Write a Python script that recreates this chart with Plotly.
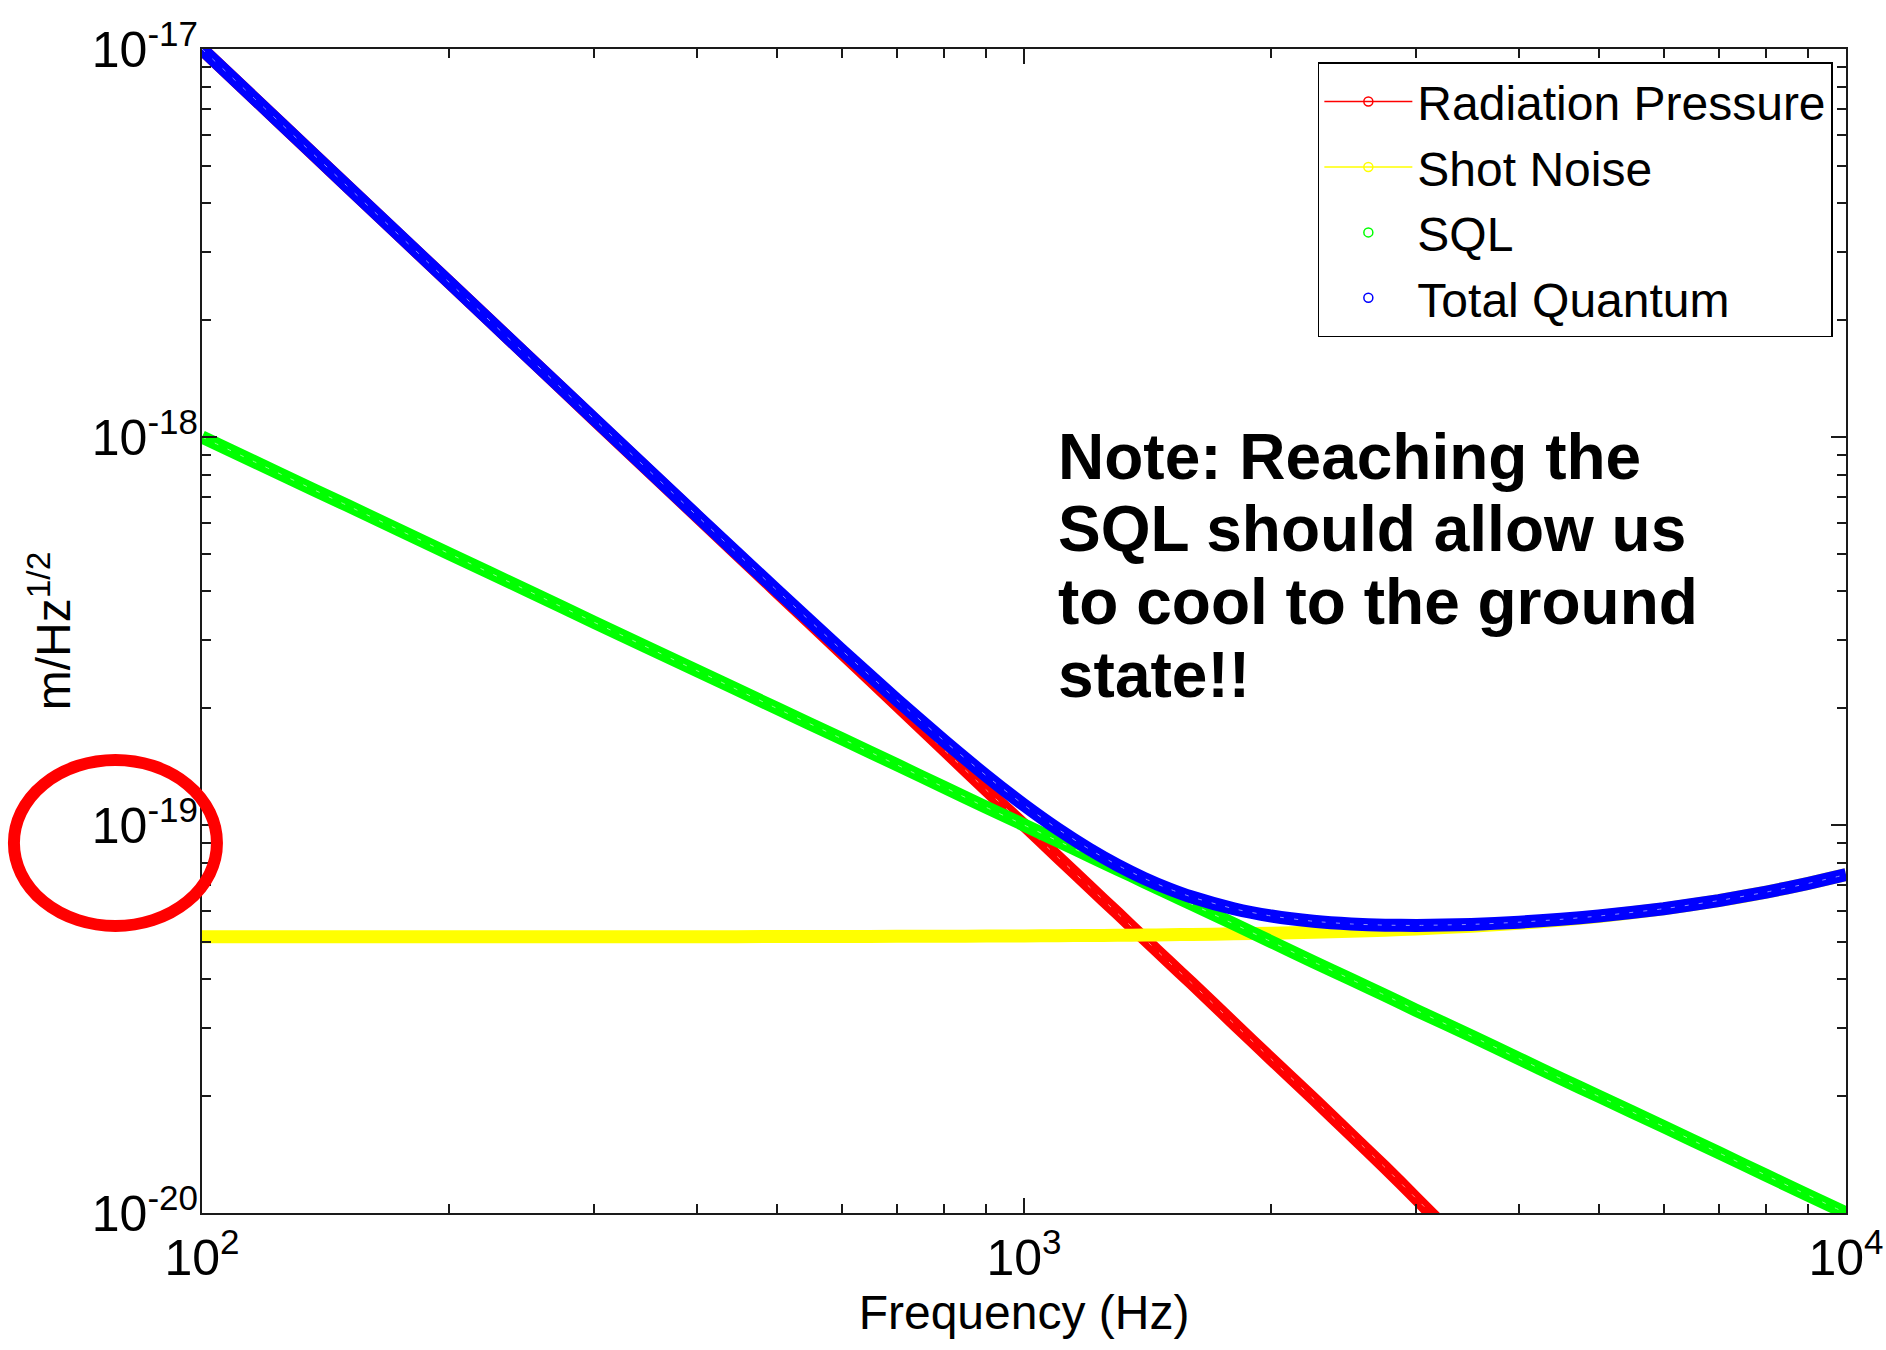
import plotly.graph_objects as go

# Sample frequencies (Hz) for the shot-noise, SQL and total curves
freq_hz = [100, 125, 150, 200, 250, 300, 400, 500, 600, 700, 800, 900,
           1000, 1100, 1200, 1300, 1400, 1500, 1600, 1800, 2000, 2250,
           2500, 2750, 3000, 3500, 4000, 4500, 5000, 6000, 7000, 8000,
           9000, 10000]

# Radiation-pressure curve runs off the bottom of the range just past 3 kHz
freq_rp_hz = [100, 125, 150, 200, 250, 300, 400, 500, 600, 700, 800, 900,
              1000, 1100, 1200, 1300, 1400, 1500, 1600, 1800, 2000, 2250,
              2500, 2750, 3000, 3300]

# Displacement noise, m/Hz^1/2
radiation_pressure = [1.0e-17, 6.40e-18, 4.44e-18, 2.50e-18, 1.60e-18, 1.11e-18,
                      6.25e-19, 4.00e-19, 2.78e-19, 2.04e-19, 1.56e-19, 1.23e-19,
                      1.00e-19, 8.26e-20, 6.94e-20, 5.92e-20, 5.10e-20, 4.44e-20,
                      3.91e-20, 3.08e-20, 2.49e-20, 1.97e-20, 1.59e-20, 1.31e-20,
                      1.09e-20, 8.9e-21]

shot_noise = [5.150e-20, 5.150e-20, 5.151e-20, 5.151e-20, 5.152e-20, 5.153e-20,
              5.154e-20, 5.157e-20, 5.160e-20, 5.164e-20, 5.168e-20, 5.173e-20,
              5.178e-20, 5.184e-20, 5.190e-20, 5.197e-20, 5.205e-20, 5.213e-20,
              5.222e-20, 5.241e-20, 5.262e-20, 5.291e-20, 5.323e-20, 5.358e-20,
              5.397e-20, 5.484e-20, 5.582e-20, 5.691e-20, 5.811e-20, 6.079e-20,
              6.382e-20, 6.714e-20, 7.071e-20, 7.449e-20]

sql = [1.0e-18, 8.0e-19, 6.67e-19, 5.0e-19, 4.0e-19, 3.33e-19, 2.5e-19,
       2.0e-19, 1.67e-19, 1.43e-19, 1.25e-19, 1.11e-19, 1.0e-19, 9.09e-20,
       8.33e-20, 7.69e-20, 7.14e-20, 6.67e-20, 6.25e-20, 5.56e-20, 5.0e-20,
       4.44e-20, 4.0e-20, 3.64e-20, 3.33e-20, 2.86e-20, 2.5e-20, 2.22e-20,
       2.0e-20, 1.67e-20, 1.43e-20, 1.25e-20, 1.11e-20, 1.0e-20]

total_quantum = [1.0e-17, 6.40e-18, 4.444e-18, 2.5005e-18, 1.6008e-18, 1.1122e-18,
                 6.271e-19, 4.033e-19, 2.825e-19, 2.105e-19, 1.646e-19, 1.339e-19,
                 1.126e-19, 9.755e-20, 8.670e-20, 7.875e-20, 7.288e-20, 6.850e-20,
                 6.521e-20, 6.082e-20, 5.826e-20, 5.647e-20, 5.558e-20, 5.519e-20,
                 5.510e-20, 5.544e-20, 5.617e-20, 5.713e-20, 5.825e-20, 6.085e-20,
                 6.385e-20, 6.716e-20, 7.072e-20, 7.450e-20]

series_names = ["Radiation Pressure", "Shot Noise", "SQL", "Total Quantum"]
series_colors = ["#ff0000", "#ffff00", "#00ff00", "#0000ff"]

x_tick_vals = [1e2, 1e3, 1e4]
x_tick_text = ["10<sup>2</sup>", "10<sup>3</sup>", "10<sup>4</sup>"]
y_tick_vals = [1e-20, 1e-19, 1e-18, 1e-17]
y_tick_text = ["10<sup>-20</sup>", "10<sup>-19</sup>", "10<sup>-18</sup>", "10<sup>-17</sup>"]

annotation_lines = ["Note: Reaching the", "SQL should allow us",
                    "to cool to the ground", "state!!"]

FONT = "Liberation Sans, Arial, Helvetica, sans-serif"
AXIS_COLOR = "#1a1a1a"
BAND_WIDTH = 13

fig = go.Figure()

# Curves drawn as thick bands (dense open-circle markers in the original style)
curve_data = [
    (freq_rp_hz, radiation_pressure),
    (freq_hz, shot_noise),
    (freq_hz, sql),
    (freq_hz, total_quantum),
]
textured = [True, False, True, True]
for (fx, fy), name, color, tex in zip(curve_data, series_names, series_colors, textured):
    fig.add_trace(go.Scatter(
        x=fx, y=fy, mode="lines", name=name, showlegend=False,
        line=dict(color=color, width=BAND_WIDTH, shape="spline", smoothing=0.5),
        hoverinfo="x+y+name",
    ))
    if tex:
        # faint light streaks left by the overlapping circle outlines
        fig.add_trace(go.Scatter(
            x=fx, y=fy, mode="lines", showlegend=False, hoverinfo="skip",
            line=dict(color="white", width=1, dash="4px,10px",
                      shape="spline", smoothing=0.5),
            opacity=0.55,
        ))

# Legend entries: line+circle for the first two, circle only for the others
legend_modes = ["lines+markers", "lines+markers", "markers", "markers"]
for name, color, mode in zip(series_names, series_colors, legend_modes):
    fig.add_trace(go.Scatter(
        x=[None], y=[None], mode=mode, name=name,
        line=dict(color=color, width=1.5),
        marker=dict(symbol="circle-open", size=9, color=color,
                    line=dict(color=color, width=1.5)),
    ))

minor_x = [m * 10 ** e for e in (2, 3) for m in range(2, 10)]
minor_y = [m * 10.0 ** e for e in (-20, -19, -18) for m in range(2, 10)]

common_axis = dict(
    type="log", showgrid=False, zeroline=False, showline=True,
    linecolor=AXIS_COLOR, linewidth=2, mirror="ticks",
    ticks="inside", ticklen=15, tickwidth=1.5, tickcolor=AXIS_COLOR,
    tickmode="array", automargin=False,
    tickfont=dict(family=FONT, size=50, color="black"),
)

fig.update_xaxes(
    **common_axis, range=[2, 4], tickvals=x_tick_vals, ticktext=x_tick_text,
    minor=dict(tickmode="array", tickvals=minor_x, ticks="inside", ticklen=9,
               tickwidth=1.5, tickcolor=AXIS_COLOR, showgrid=False),
    title=dict(text="Frequency (Hz)", font=dict(family=FONT, size=48, color="black"),
               standoff=6),
)
fig.update_yaxes(
    **common_axis, range=[-20, -17], tickvals=y_tick_vals, ticktext=y_tick_text,
    ticklabelstandoff=-8,
    minor=dict(tickmode="array", tickvals=minor_y, ticks="inside", ticklen=9,
               tickwidth=1.5, tickcolor=AXIS_COLOR, showgrid=False),
    title=dict(text="m/Hz<sup>1/2</sup>", font=dict(family=FONT, size=48, color="black"),
               standoff=6),
)

# Bold note placed line by line inside the plot
note_y = [0.6495, 0.5872, 0.5249, 0.4626]
for text, yy in zip(annotation_lines, note_y):
    fig.add_annotation(
        x=0.5195, y=yy, xref="paper", yref="paper", xanchor="left", yanchor="middle",
        text="<b>" + text + "</b>", showarrow=False,
        font=dict(family=FONT, size=64, color="black"),
    )

# Red ellipse highlighting the 10^-19 label
fig.add_shape(
    type="circle", xref="paper", yref="paper",
    x0=-0.1144, x1=0.0091, y0=0.2466, y1=0.3892,
    line=dict(color="#ff0000", width=12), layer="above",
)

fig.update_layout(
    width=1886, height=1350,
    margin=dict(l=202, r=40, t=49, b=137),
    paper_bgcolor="white", plot_bgcolor="white",
    font=dict(family=FONT, color="black", size=48),
    showlegend=True,
    legend=dict(
        x=0.992, xanchor="right", y=0.9885, yanchor="top",
        bgcolor="white", bordercolor="black", borderwidth=1.5,
        font=dict(family=FONT, size=48, color="black"),
        itemwidth=88, tracegroupgap=0,
    ),
)

fig.write_html("out.html")
